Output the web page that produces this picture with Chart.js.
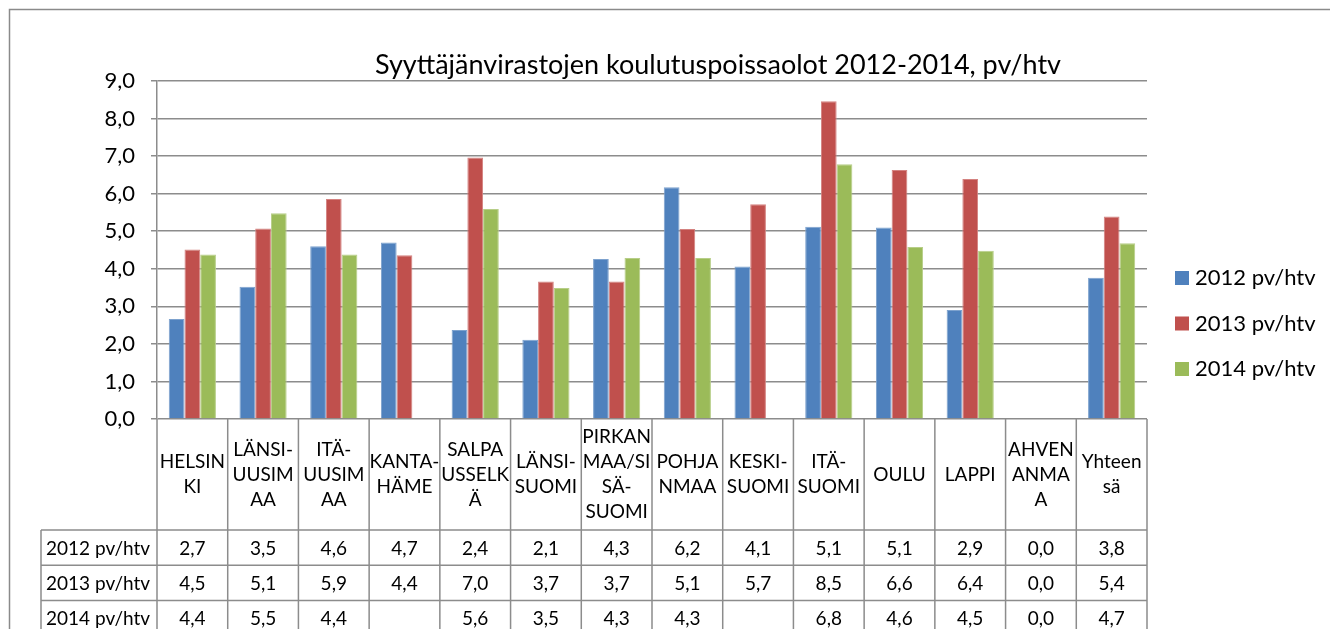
<!DOCTYPE html>
<html><head><meta charset="utf-8">
<script src="https://cdn.jsdelivr.net/npm/chart.js@4/dist/chart.umd.min.js"></script>
<style>html,body{margin:0;padding:0;background:#fff;overflow:hidden}#wrap{width:1330px;height:629px;position:relative}</style>
</head><body><div id="wrap"><canvas id="c" width="1330" height="629"></canvas></div>
<script>
const categories = [["HELSIN","KI"],["LÄNSI-","UUSIM","AA"],["ITÄ-","UUSIM","AA"],["KANTA-","HÄME"],["SALPA","USSELK","Ä"],["LÄNSI-","SUOMI"],["PIRKAN","MAA/SI","SÄ-","SUOMI"],["POHJA","NMAA"],["KESKI-","SUOMI"],["ITÄ-","SUOMI"],["OULU"],["LAPPI"],["AHVEN","ANMA","A"],["Yhteen","sä"]];
const seriesNames = ["2012 pv/htv","2013 pv/htv","2014 pv/htv"];
const values2012 = [2.66, 3.52, 4.60, 4.70, 2.37, 2.11, 4.26, 6.17, 4.06, 5.12, 5.10, 2.90, 0, 3.76];
const values2013 = [4.51, 5.07, 5.86, 4.36, 6.96, 3.66, 3.66, 5.06, 5.72, 8.46, 6.63, 6.39, 0, 5.39];
const values2014 = [4.38, 5.48, 4.38, null, 5.59, 3.49, 4.29, 4.29, null, 6.78, 4.58, 4.48, 0, 4.68];
const yMin = 0, yMax = 9, yStep = 1;
const chartTitle = "Syyttäjänvirastojen koulutuspoissaolot 2012-2014, pv/htv";
const seriesColors = ['#4F81BD', '#C0504D', '#9BBB59'];
const seriesBorders = ['#7DA2CE', '#D48280', '#B7CE88'];
const allSeries = [values2012, values2013, values2014];

const FONT = 'Lato, "Liberation Sans", sans-serif';
const LINE = '#8c8c8c';
const fmt = v => (v === null || v === undefined) ? '' : v.toFixed(1).replace('.', ',');

const tablePlugin = {
  id: 'excelTable',
  beforeDraw(chart) {
    const ctx = chart.ctx;
    ctx.save();
    ctx.fillStyle = '#fff';
    ctx.fillRect(0, 0, chart.width, chart.height);
    ctx.strokeStyle = '#8a8a8a';
    ctx.lineWidth = 1.5;
    ctx.beginPath();
    ctx.moveTo(9.5, chart.height);
    ctx.lineTo(9.5, 9.5);
    ctx.lineTo(chart.width, 9.5);
    ctx.stroke();
    ctx.restore();
  },
  afterDraw(chart) {
    const ctx = chart.ctx;
    const xs = chart.scales.x;
    const area = chart.chartArea;
    const n = categories.length;
    const cw = (area.right - area.left) / n;
    const headTop = area.bottom;
    const headBottom = headTop + 111;
    const rowH = 35.3;
    const labelLeft = 41;
    ctx.save();
    ctx.strokeStyle = LINE;
    ctx.lineWidth = 1.5;
    ctx.beginPath();
    for (let i = 0; i <= n; i++) {
      const x = xs.getPixelForValue(i) - cw / 2;
      const xx = i === n ? area.right : x;
      ctx.moveTo(xx, headTop);
      ctx.lineTo(xx, chart.height);
    }
    ctx.moveTo(labelLeft, headBottom);
    ctx.lineTo(labelLeft, chart.height);
    for (let r = 0; r <= 3; r++) {
      const y = headBottom + r * rowH;
      ctx.moveTo(labelLeft, y);
      ctx.lineTo(area.right, y);
    }
    ctx.stroke();
    ctx.fillStyle = '#000';
    ctx.textAlign = 'center';
    ctx.textBaseline = 'middle';
    ctx.font = '19px ' + FONT;
    const lh = 25;
    const hc = (headTop + headBottom) / 2;
    categories.forEach((lines, i) => {
      const x = xs.getPixelForValue(i);
      const y0 = hc - (lines.length - 1) * lh / 2;
      lines.forEach((t, k) => ctx.fillText(t, x, y0 + k * lh));
    });
    allSeries.forEach((vals, r) => {
      const yc = headBottom + r * rowH + rowH / 2 + 1;
      ctx.textAlign = 'left';
      ctx.fillText(seriesNames[r], labelLeft + 5, yc);
      ctx.textAlign = 'center';
      vals.forEach((v, i) => ctx.fillText(fmt(v), xs.getPixelForValue(i), yc));
    });
    ctx.font = '27px ' + FONT;
    ctx.textAlign = 'center';
    ctx.fillText(chartTitle, 718, 65);
    ctx.font = '22px ' + FONT;
    ctx.textAlign = 'left';
    seriesNames.forEach((name, r) => {
      const yc = 278 + r * 45.5;
      ctx.fillStyle = seriesColors[r];
      ctx.fillRect(1175, yc - 7, 14, 14);
      ctx.fillStyle = '#000';
      ctx.fillText(name, 1195, yc);
    });
    ctx.restore();
  }
};

function make() {
  new Chart(document.getElementById('c'), {
    type: 'bar',
    data: {
      labels: categories.map(l => l.join(' ')),
      datasets: allSeries.map((vals, i) => ({
        label: seriesNames[i],
        data: vals,
        backgroundColor: seriesColors[i],
        borderColor: seriesBorders[i],
        borderWidth: 1,
        categoryPercentage: 0.667,
        barPercentage: 1.0
      }))
    },
    options: {
      responsive: false,
      animation: false,
      devicePixelRatio: 1,
      layout: { padding: { top: 81, right: 183, bottom: 0, left: 0 } },
      plugins: { legend: { display: false }, title: { display: false }, tooltip: { enabled: false } },
      scales: {
        x: {
          ticks: { display: false },
          grid: { display: false },
          border: { display: false },
          afterFit: s => { s.height = 210; }
        },
        y: {
          min: yMin, max: yMax,
          ticks: {
            stepSize: yStep,
            color: '#000',
            font: { family: FONT, size: 22 },
            padding: 16,
            callback: v => Number(v).toFixed(1).replace('.', ',')
          },
          grid: { color: LINE, lineWidth: 1.5, tickLength: 6 },
          border: { color: LINE, width: 1.5 },
          afterFit: s => { s.width = 157; }
        }
      }
    },
    plugins: [tablePlugin]
  });
}
Promise.all([document.fonts.load('19px Lato'), document.fonts.load('27px Lato')]).then(make, make);
</script></body></html>
